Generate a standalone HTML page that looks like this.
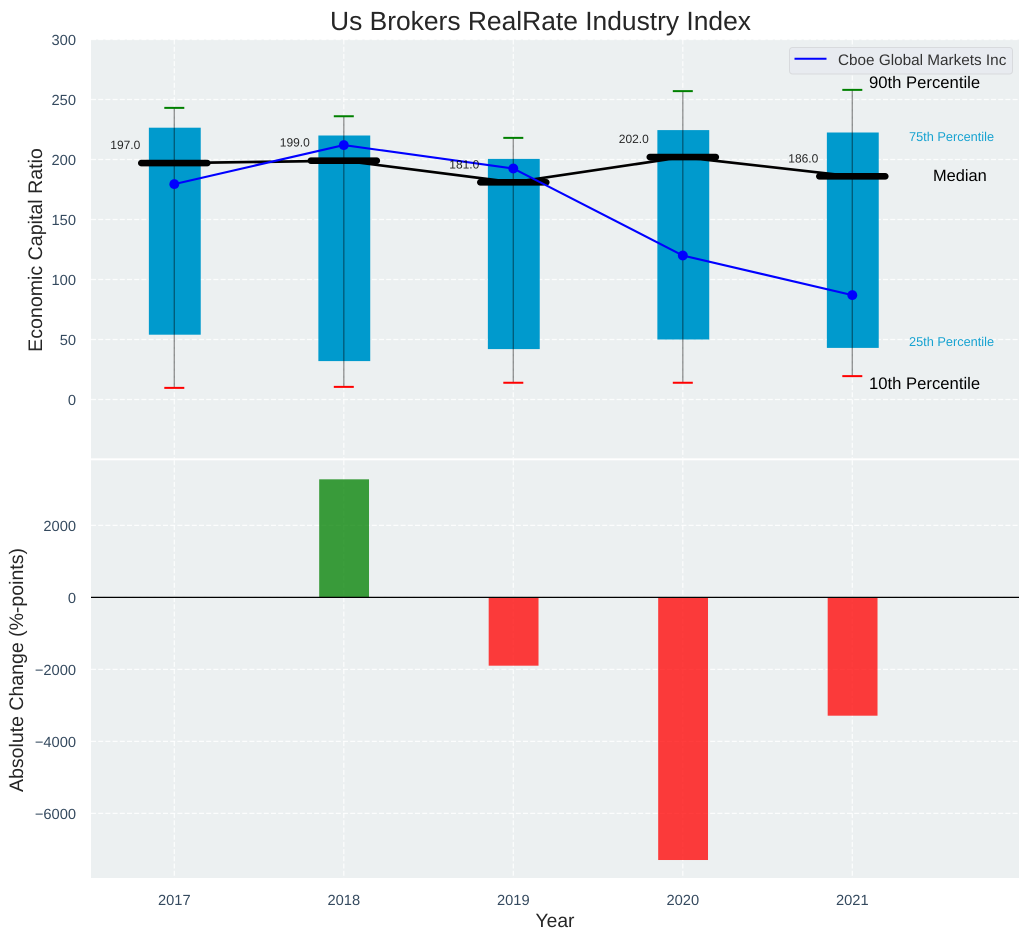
<!DOCTYPE html>
<html lang="en">
<head>
<meta charset="utf-8">
<title>Us Brokers RealRate Industry Index</title>
<style>
html,body{margin:0;padding:0;background:#fff;}
svg{display:block;font-family:"Liberation Sans",Arial,sans-serif;text-rendering:geometricPrecision;}
</style>
</head>
<body>
<svg id="chart" xmlns="http://www.w3.org/2000/svg" width="1029" height="940" viewBox="0 0 1029 940">
<rect x="0" y="0" width="1029" height="940" fill="#ffffff"/>
<rect x="91" y="39.5" width="928" height="418.8" fill="#ecf0f1"/>
<rect x="91" y="460.3" width="928" height="417.7" fill="#ecf0f1"/>
<g id="grid"></g>
<g id="marks"></g>
<g id="ticks"></g>
<text x="540.5" y="30" text-anchor="middle" font-size="26.4" fill="#262626">Us Brokers RealRate Industry Index</text>
<text transform="translate(42,250) rotate(-90)" text-anchor="middle" font-size="19.6" fill="#262626">Economic Capital Ratio</text>
<text transform="translate(23,670) rotate(-90)" text-anchor="middle" font-size="19.5" fill="#262626">Absolute Change (%-points)</text>
<text x="555" y="927" text-anchor="middle" font-size="19.3" fill="#262626">Year</text>
<g>
<rect x="789.5" y="47.5" width="223" height="26.5" rx="3" fill="#e8eaef" fill-opacity="0.9" stroke="#d8dadd" stroke-width="1"/>
<line x1="794.5" y1="58.8" x2="826.5" y2="58.8" stroke="#0000ff" stroke-width="2"/>
<text x="838" y="65" font-size="15.3" fill="#333333">Cboe Global Markets Inc</text>
</g>
<g>
<text x="869" y="88" font-size="16.67" fill="#000000">90th Percentile</text>
<text x="909" y="141" font-size="12.75" fill="#009acd" fill-opacity="0.9">75th Percentile</text>
<text x="933" y="181" font-size="16.4" fill="#000000">Median</text>
<text x="909" y="346" font-size="12.75" fill="#009acd" fill-opacity="0.9">25th Percentile</text>
<text x="869" y="389" font-size="16.67" fill="#000000">10th Percentile</text>
</g>
</svg>
<script>
const years = [2017, 2018, 2019, 2020, 2021];
const p10 = [9.7, 10.5, 14, 14, 19.5];
const p25 = [54, 32, 42, 50, 43];
const medians = [197, 199, 181, 202, 186];
const p75 = [226.5, 220, 200.5, 224.5, 222.5];
const p90 = [243, 236, 218, 257, 258];
const company = [179.5, 212, 192.5, 120, 87];
const absoluteChange = [3280, -1897, -7295, -3286];
const changeYears = [2018, 2019, 2020, 2021];
const topTicks = [0, 50, 100, 150, 200, 250, 300];
const bottomTicks = [-6000, -4000, -2000, 0, 2000];

const NS = 'http://www.w3.org/2000/svg';
const xPerYear = 169.5;
const xScale = v => 174.3 + (v - 2017) * xPerYear;
const yTop = v => 399.5 - v * 1.2;
const yBottom = v => 597.4 - v * 0.036;

function make(parent, tag, attrs, text) {
  const el = document.createElementNS(NS, tag);
  for (const k in attrs) el.setAttribute(k, attrs[k]);
  if (text !== undefined) el.textContent = text;
  parent.appendChild(el);
  return el;
}
const grid = document.getElementById('grid');
const marks = document.getElementById('marks');
const ticks = document.getElementById('ticks');
const gridStyle = {stroke: '#ffffff', 'stroke-width': 1.2, 'stroke-dasharray': '5 2.2', 'stroke-opacity': 0.85};

years.forEach(y => {
  const g1 = make(grid, 'line', {x1: xScale(y), x2: xScale(y), y1: 39.5, y2: 458.3, ...gridStyle});
  
  
  const g2 = make(grid, 'line', {x1: xScale(y), x2: xScale(y), y1: 460.3, y2: 878, ...gridStyle});
  
  
  const t = make(ticks, 'text', {x: xScale(y), y: 905, 'text-anchor': 'middle', 'font-size': 14.67, fill: '#34495e'}, String(y));
  
  
});
topTicks.forEach(v => {
  const g = make(grid, 'line', {x1: 91, x2: 1019, y1: yTop(v), y2: yTop(v), ...gridStyle});
  
  
  const t = make(ticks, 'text', {x: 76, y: yTop(v) + 5.5, 'text-anchor': 'end', 'font-size': 14.67, fill: '#34495e'}, String(v));
  
  
});
bottomTicks.forEach(v => {
  const g = make(grid, 'line', {x1: 91, x2: 1019, y1: yBottom(v), y2: yBottom(v), ...gridStyle});
  
  
  const label = v < 0 ? '\u2212' + Math.abs(v) : String(v);
  const t = make(ticks, 'text', {x: 76, y: yBottom(v) + 5.5, 'text-anchor': 'end', 'font-size': 14.67, fill: '#34495e'}, label);
  
  
});

// bottom panel
changeYears.forEach((y, i) => {
  const v = absoluteChange[i];
  const top = Math.min(yBottom(v), yBottom(0));
  const h = Math.abs(yBottom(v) - yBottom(0));
  const halfWidth = 0.147 * xPerYear;
  const b = make(marks, 'rect', {x: xScale(y) - halfWidth + 0.3, y: top, width: 2 * halfWidth, height: h, fill: v >= 0 ? '#008000' : '#ff0000', 'fill-opacity': 0.76});
  
  
});
const zero = make(marks, 'line', {x1: 91, x2: 1019, y1: yBottom(0), y2: yBottom(0), stroke: '#000000', 'stroke-width': 1.3});



// top panel boxes
years.forEach((y, i) => {
  const halfWidth = 0.153 * xPerYear;
  const b = make(marks, 'rect', {x: xScale(y) - halfWidth + 0.5, y: yTop(p75[i]), width: 2 * halfWidth, height: yTop(p25[i]) - yTop(p75[i]), fill: '#009acd'});
  
  
});
// median connecting line
const medLine = make(marks, 'polyline', {points: years.map((y, i) => xScale(y) + ',' + yTop(medians[i])).join(' '), fill: 'none', stroke: '#000000', 'stroke-width': 2.7});



years.forEach((y, i) => {
  const w = make(marks, 'line', {x1: xScale(y), x2: xScale(y), y1: yTop(p10[i]), y2: yTop(p90[i]), stroke: '#000000', 'stroke-opacity': 0.4, 'stroke-width': 1.4});
  
  
  const hi = make(marks, 'line', {x1: xScale(y) - 10, x2: xScale(y) + 10, y1: yTop(p90[i]), y2: yTop(p90[i]), stroke: '#008000', 'stroke-width': 2});
  
  
  const lo = make(marks, 'line', {x1: xScale(y) - 10, x2: xScale(y) + 10, y1: yTop(p10[i]), y2: yTop(p10[i]), stroke: '#ff0000', 'stroke-width': 2});
  
  
  const m = make(marks, 'line', {x1: xScale(y) - 33, x2: xScale(y) + 33, y1: yTop(medians[i]), y2: yTop(medians[i]), stroke: '#000000', 'stroke-width': 6.6, 'stroke-linecap': 'round'});
  
  
});

// company line
const cl = make(marks, 'polyline', {points: years.map((y, i) => xScale(y) + ',' + yTop(company[i])).join(' '), fill: 'none', stroke: '#0000ff', 'stroke-width': 2.1});


years.forEach((y, i) => {
  const p = make(marks, 'circle', {cx: xScale(y), cy: yTop(company[i]), r: 5, fill: '#0000ff'});
  
  
  const t = make(marks, 'text', {x: xScale(y) - 49, y: yTop(medians[i]) - 14, 'text-anchor': 'middle', 'font-size': 12, fill: '#000000', 'fill-opacity': 0.85}, medians[i].toFixed(1));
  
  
});
</script>
</body>
</html>
